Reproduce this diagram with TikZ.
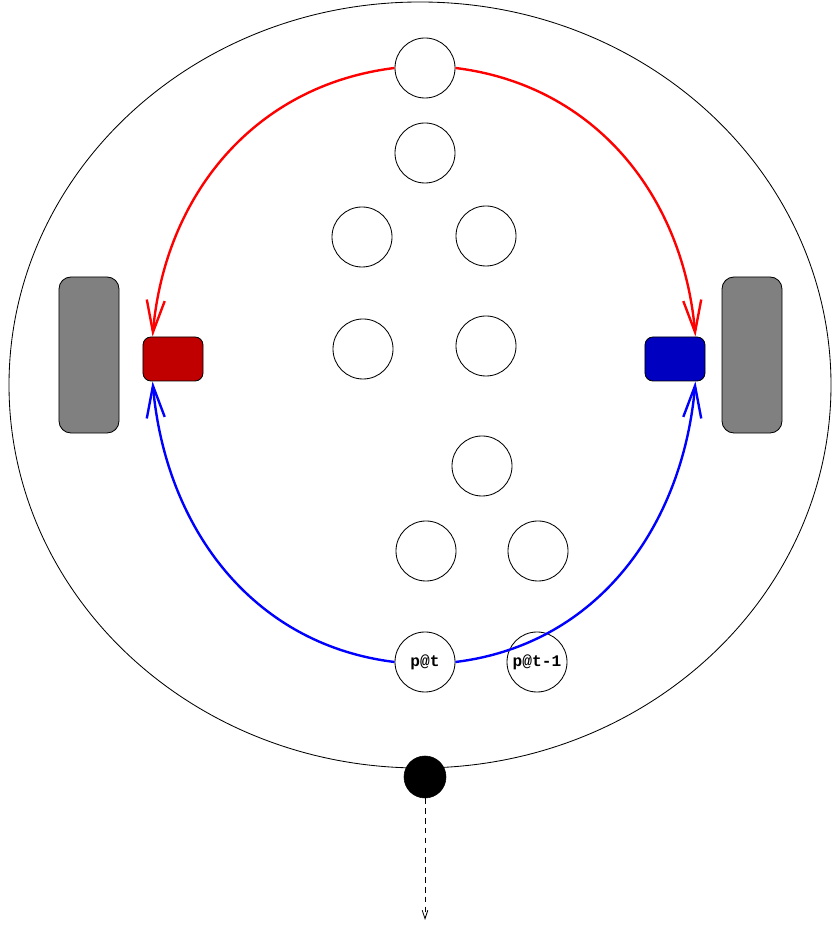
\documentclass[tikz,border=0pt]{standalone}
\usepackage{fontspec}
\newfontfamily\spotfont{Liberation Mono}
\usetikzlibrary{arrows.meta,calc}
\definecolor{goalred}{RGB}{192,0,0}
\definecolor{goalblue}{RGB}{0,0,192}
\begin{document}
\begin{tikzpicture}[x=0.025cm,y=0.025cm,
  spot/.style={draw,circle,minimum size=1.5cm,inner sep=0pt,line width=0.6pt,font=\spotfont\bfseries\fontsize{11.5}{13}\selectfont},
  goal/.style={draw,rounded corners=0.2cm,minimum width=1.5cm,minimum height=1.1cm,inner sep=0pt,line width=0.6pt},
  wall/.style={draw,fill=black!50,rounded corners=0.3cm,minimum width=1.5cm,minimum height=3.9cm,inner sep=0pt,line width=0.6pt},
  pass/.style={line width=1.7pt,-{Straight Barb[length=0.8cm,width=0.45cm]}}]
  \useasboundingbox (0,0) rectangle (831,928);
  \draw[line width=0.6pt] (420,543) ellipse [x radius=411, y radius=383];
  \node[wall] (w1) at (89,573) {};
  \node[wall] (w2) at (752,573) {};
  \node[goal,fill=goalred] (g1) at (173,569) {};
  \node[goal,fill=goalblue] (g2) at (675,569) {};
  \node[spot] (11) at (425,860) {};
  \node[spot] (21) at (425,775) {};
  \node[spot] (31) at (362,691) {};
  \node[spot] (32) at (486,692) {};
  \node[spot] (41) at (363,579) {};
  \node[spot] (42) at (486,582) {};
  \node[spot] (51) at (482,462) {};
  \node[spot] (61) at (426,377) {};
  \node[spot] (62) at (538,377) {};
  \node[spot] (71) at (425,266) {p@t};
  \node[spot] (72) at (537,266) {p@t-1};
  \node[draw,circle,fill=black,minimum size=1.05cm,inner sep=0pt] (ball) at (425,151) {};
  \coordinate (kick) at (425,8);
  \draw[pass,red] (11.west) to[out=187,in=85] ($(g1.north west)+(10,0)$);
  \draw[pass,red] (11.east) to[out=-7,in=95] ($(g2.north east)+(-10,0)$);
  \draw[pass,blue] (71.west) to[out=173,in=-85] ($(g1.south west)+(10,0)$);
  \draw[pass,blue] (71.east) to[out=7,in=265] ($(g2.south east)+(-10,0)$);
  \draw[line width=0.6pt,dash pattern=on 4pt off 3pt,-{Straight Barb[length=6pt,width=4pt]}] (ball) -- (kick);
\end{tikzpicture}
\end{document}
